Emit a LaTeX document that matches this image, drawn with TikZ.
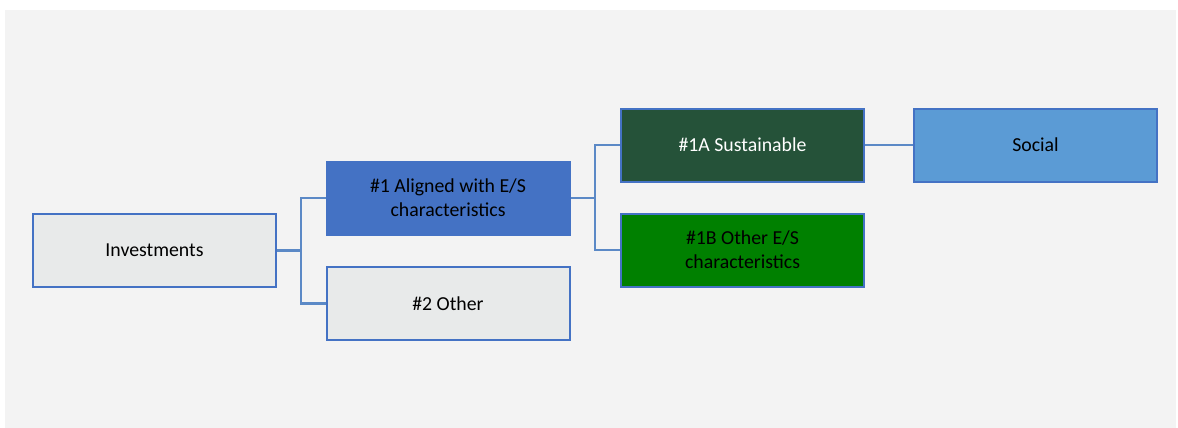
\documentclass[tikz,border=0pt]{standalone}
\usepackage{fontspec}
\setmainfont{Carlito}
\definecolor{bgc}{HTML}{F3F3F3}
\definecolor{bordc}{HTML}{4472C4}
\definecolor{linec}{HTML}{5B89C6}
\definecolor{grayfill}{HTML}{E8EAEA}
\definecolor{bluefill}{HTML}{4472C4}
\definecolor{darkgreen}{HTML}{255239}
\definecolor{brightgreen}{HTML}{008000}
\definecolor{lightblue}{HTML}{5B9BD5}
\tikzset{
  box/.style={draw=bordc, line width=2pt, rectangle, minimum width=243pt, minimum height=73pt, inner sep=0pt, align=center, font=\fontsize{19.8}{24}\selectfont},
  conn/.style={draw=linec, line width=2.2pt}
}
\begin{document}
\begin{tikzpicture}[x=1pt,y=-1pt]
\useasboundingbox (0,0) rectangle (1178,428);
\fill[white] (0,0) rectangle (1178,428);
\fill[bgc] (5,10) rectangle (1176,428);
\node[box, fill=grayfill] (inv) at (154.5,250.5) {Investments};
\node[box, fill=bluefill] (a1) at (448,198) {\#1 Aligned with E/S\\characteristics};
\node[box, fill=grayfill] (o2) at (448,303.5) {\#2 Other};
\node[box, fill=darkgreen, text=white] (s1a) at (742.5,145) {\#1A Sustainable};
\node[box, fill=brightgreen] (s1b) at (742.5,250) {\#1B Other E/S\\characteristics};
\node[box, fill=lightblue] (soc) at (1035.5,145) {Social};
\coordinate (j1) at (301,250.5);
\coordinate (j2) at (595,198);
\draw[conn] (inv.east) -- (j1);
\draw[conn] (j1) |- (a1.west);
\draw[conn] (j1) |- (o2.west);
\draw[conn] (a1.east) -- (j2);
\draw[conn] (j2) |- (s1a.west);
\draw[conn] (j2) |- (s1b.west);
\draw[conn] (s1a.east) -- (soc.west);
\end{tikzpicture}
\end{document}
